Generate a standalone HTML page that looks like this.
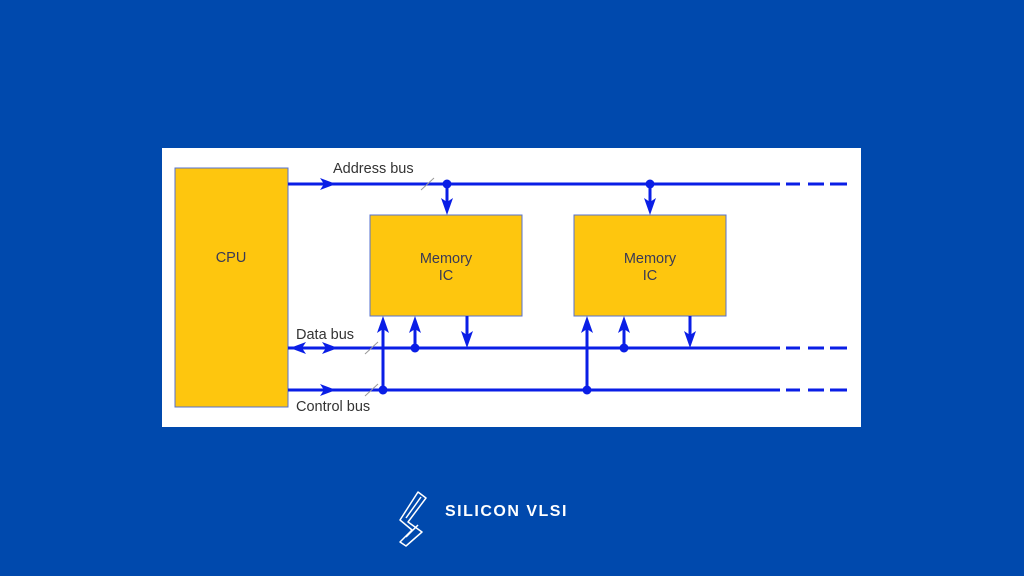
<!DOCTYPE html>
<html><head><style>
body{margin:0;width:1024px;height:576px;background:#0049ad;overflow:hidden;font-family:"Liberation Sans",sans-serif}
</style></head><body>
<svg width="1024" height="576" xmlns="http://www.w3.org/2000/svg" style="position:absolute;left:0;top:0">
<rect x="162" y="148" width="699" height="279" fill="#fff"/>
<g fill="#fec60e" stroke="#5570d0" stroke-width="1">
<rect x="175" y="168" width="113" height="239"/>
<rect x="370" y="215" width="152" height="101"/>
<rect x="574" y="215" width="152" height="101"/>
</g>
<g font-size="14.5" fill="#3a3a55" text-anchor="middle">
<text x="231" y="262">CPU</text>
<text x="446" y="263">Memory</text><text x="446" y="280">IC</text>
<text x="650" y="263">Memory</text><text x="650" y="280">IC</text>
</g>
<g font-size="14.5" fill="#333">
<text x="333" y="173">Address bus</text>
<text x="296" y="339">Data bus</text>
<text x="296" y="411">Control bus</text>
</g>
<g stroke="#0a1ee6" stroke-width="3" fill="none">
<line x1="288" y1="184" x2="780" y2="184"/>
<line x1="288" y1="348" x2="780" y2="348"/>
<line x1="288" y1="390" x2="780" y2="390"/>
<path d="M786 184h14M808 184h16M830 184h17M786 348h14M808 348h16M830 348h17M786 390h14M808 390h16M830 390h17"/>
</g>
<g fill="#0a1ee6">
<path d="M320 178l16 6-16 6 4-6z"/>
<path d="M320 384l16 6-16 6 4-6z"/>
<path d="M322 342l16 6-16 6 4-6z"/>
<path d="M306 342l-16 6 16 6-4-6z"/>
</g>
<g stroke="#0a1ee6" stroke-width="3">
<line x1="447" y1="184" x2="447" y2="205"/>
<line x1="650" y1="184" x2="650" y2="205"/>
<line x1="383" y1="390" x2="383" y2="326"/>
<line x1="415" y1="348" x2="415" y2="326"/>
<line x1="467" y1="316" x2="467" y2="338"/>
<line x1="587" y1="390" x2="587" y2="326"/>
<line x1="624" y1="348" x2="624" y2="326"/>
<line x1="690" y1="316" x2="690" y2="338"/>
</g>
<g fill="#0a1ee6">
<path d="M441 198l6 17 6-17-6 4z"/>
<path d="M644 198l6 17 6-17-6 4z"/>
<path d="M377 333l6-17 6 17-6-4z"/>
<path d="M409 333l6-17 6 17-6-4z"/>
<path d="M581 333l6-17 6 17-6-4z"/>
<path d="M618 333l6-17 6 17-6-4z"/>
<path d="M461 331l6 17 6-17-6 4z"/>
<path d="M684 331l6 17 6-17-6 4z"/>
<circle cx="447" cy="184" r="4.5"/><circle cx="650" cy="184" r="4.5"/>
<circle cx="415" cy="348" r="4.5"/><circle cx="624" cy="348" r="4.5"/>
<circle cx="383" cy="390" r="4.5"/><circle cx="587" cy="390" r="4.5"/>
</g>
<g stroke="#999" stroke-width="1">
<line x1="421" y1="190" x2="434" y2="178"/>
<line x1="365" y1="354" x2="378" y2="342"/>
<line x1="365" y1="396" x2="378" y2="384"/>
</g>
<g stroke="#fff" stroke-width="1.5" fill="none" stroke-linejoin="round">
<path d="M418 492l8 6-18 24 14 10-16 14-6-4 12-12-12-10z"/>
<path d="M421 497l-15 21M418 525l-12 12"/>
</g>
<text x="445" y="516" font-size="16" font-weight="bold" fill="#fff" letter-spacing="1.5">SILICON VLSI</text>
</svg>
</body></html>
